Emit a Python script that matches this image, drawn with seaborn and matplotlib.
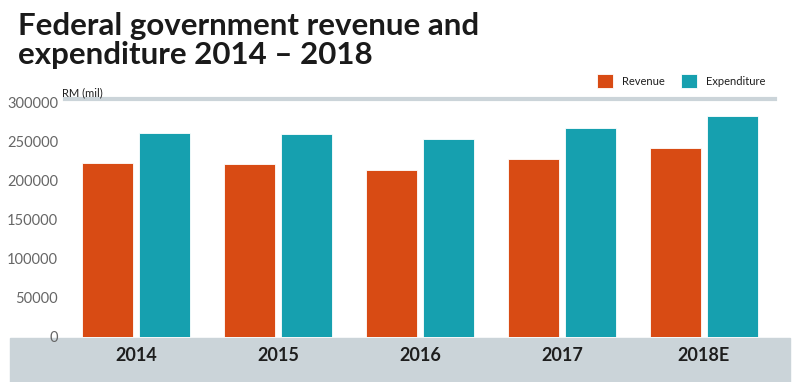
import matplotlib
matplotlib.use("Agg")
import matplotlib.pyplot as plt
import matplotlib.patches as mpatches
import pandas as pd
import seaborn as sns

# data (RM mil)
years = ["2014", "2015", "2016", "2017", "2018E"]
revenue = [222700, 221400, 214500, 227500, 242500]
expenditure = [261100, 259800, 254000, 268300, 283700]
series_names = ["Revenue", "Expenditure"]
colors = ["#D84B14", "#16A0AF"]

df = pd.DataFrame({
    "year": years * 2,
    "value": revenue + expenditure,
    "series": [series_names[0]] * len(years) + [series_names[1]] * len(years),
})

sns.set_style("white")
plt.rcParams["font.family"] = ["Lato", "DejaVu Sans"]

fig = plt.figure(figsize=(8, 3.82), dpi=100)
ax = fig.add_axes([65 / 800, 45 / 382, 710 / 800, 238 / 382])
ax.patch.set_alpha(0)

sns.barplot(data=df, x="year", y="value", hue="series", palette=colors,
            width=0.8, gap=0.1, saturation=1, ax=ax,
            edgecolor="white", linewidth=0.6)

ax.set_xlim(-0.5, 4.5)
ax.set_ylim(0, 305000)
ax.set_yticks(range(0, 300001, 50000))
ax.set_yticklabels([str(v) for v in range(0, 300001, 50000)])
ax.set_xlabel("")
ax.set_ylabel("")
ax.tick_params(axis="y", length=0, pad=5, labelsize=10.5, labelcolor="#666666")
ax.tick_params(axis="x", length=0, pad=7, labelsize=13, labelcolor="#1e1e1e")
for lab in ax.get_xticklabels():
    lab.set_fontweight("bold")

for s in ["left", "right", "bottom"]:
    ax.spines[s].set_visible(False)
ax.spines["top"].set_color("#cbd4d9")
ax.spines["top"].set_linewidth(3)

# grey band behind the year labels
fig.patches.append(mpatches.Rectangle((10 / 800, 0), 780 / 800, 44 / 382,
                                      transform=fig.transFigure,
                                      color="#cbd4d9", zorder=-1))

handles, labels = ax.get_legend_handles_labels()
ax.legend(handles, labels, ncol=2, frameon=False, loc="center right",
          bbox_to_anchor=(771 / 800, 1 - 81 / 382), bbox_transform=fig.transFigure,
          fontsize=8, handlelength=1.45, handleheight=1.45, handletextpad=0.8,
          columnspacing=1.5, borderpad=0, labelcolor="#1e1e1e")

fig.text(18 / 800, 1 - 35 / 382, "Federal government revenue and",
         fontsize=22.5, fontweight="bold", color="#1a1a1a", va="baseline")
fig.text(18 / 800, 1 - 64 / 382, "expenditure 2014 \u2013 2018",
         fontsize=22.5, fontweight="bold", color="#1a1a1a", va="baseline")
fig.text(62 / 800, 1 - 96 / 382, "RM (mil)", fontsize=8, color="#1e1e1e",
         va="baseline")

fig.savefig("out.png", dpi=100)
